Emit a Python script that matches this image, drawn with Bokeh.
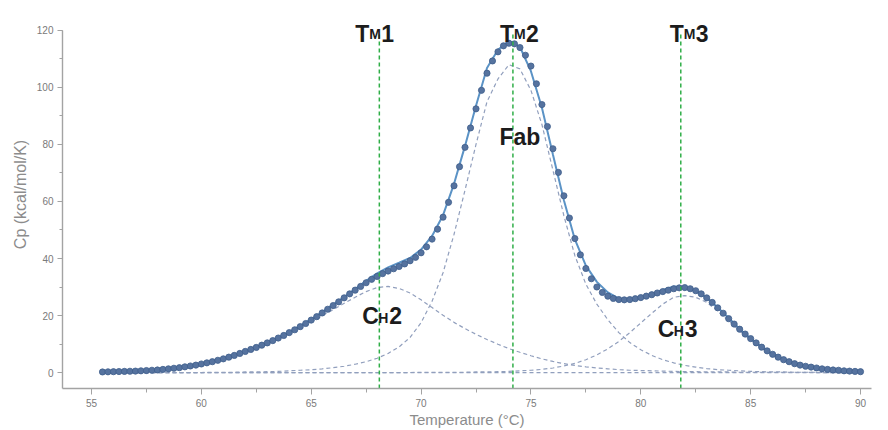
import numpy as np
from bokeh.plotting import figure
from bokeh.models import Range1d, SingleIntervalTicker, Title
from bokeh.core.properties import value
from bokeh.embed import file_html
from bokeh.resources import INLINE

# ---------------- data ----------------
# measured points, every 0.25 degC from 55.5 to 90.0
temp_data = np.round(np.arange(55.5, 90.001, 0.25), 2)
cp_data = [
    0.2, 0.25, 0.3, 0.35, 0.4, 0.45, 0.5, 0.6, 0.7, 0.8,
    0.9, 1.1, 1.3, 1.5, 1.7, 2.0, 2.3, 2.6, 3.0, 3.4,
    3.8, 4.3, 4.8, 5.4, 6.0, 6.7, 7.4, 8.1, 8.8, 9.6,
    10.4, 11.2, 12.1, 13.0, 14.0, 15.0, 16.1, 17.2, 18.4, 19.6,
    20.9, 22.2, 23.5, 24.8, 26.2, 27.6, 28.9, 30.2, 31.5, 32.7,
    33.7, 34.7, 35.6, 36.4, 37.2, 38.1, 39.2, 40.4, 42.0, 44.1,
    46.8, 50.3, 54.5, 59.7, 65.5, 72.2, 79.0, 85.8, 92.5, 99.0,
    105.0, 109.3, 112.5, 114.6, 115.5, 115.3, 114.0, 111.3, 107.5, 101.3,
    94.0, 86.3, 78.5, 70.2, 62.0, 54.2, 47.0, 41.3, 36.5, 32.9,
    30.0, 28.1, 26.8, 26.0, 25.6, 25.5, 25.6, 25.9, 26.3, 26.8,
    27.3, 27.9, 28.4, 28.9, 29.4, 29.7, 29.8, 29.4, 28.7, 27.6,
    26.2, 24.6, 22.7, 20.8, 18.9, 17.0, 15.2, 13.5, 11.9, 10.4,
    8.9, 7.6, 6.4, 5.4, 4.5, 3.8, 3.1, 2.6, 2.2, 1.9,
    1.6, 1.3, 1.1, 0.9, 0.8, 0.6, 0.5, 0.4, 0.3,
]

# fitted curves, every 0.5 degC from 55.5 to 90.0
temp_fit = np.round(np.arange(55.5, 90.001, 0.5), 2)
cp_fit = [
    0.2, 0.3, 0.4, 0.5, 0.7, 0.9, 1.3, 1.7, 2.3, 3.0,
    3.9, 4.9, 6.1, 7.5, 8.9, 10.5, 12.2, 14.2, 16.4, 18.7,
    21.2, 23.8, 26.5, 29.3, 32.2, 34.8, 36.9, 38.5, 40.2, 43.1,
    47.9, 55.2, 66.2, 79.5, 93.6, 106.8, 113.2, 116.3, 114.2, 105.7,
    92.9, 76.5, 60.4, 46.7, 37.5, 31.8, 28.1, 25.9, 25.3, 26.1,
    27.4, 29.0, 30.2, 29.8, 28.6, 26.2, 22.8, 19.1, 15.3, 11.9,
    9.0, 6.5, 4.7, 3.2, 2.3, 1.6, 1.1, 0.8, 0.5, 0.3,
]
ch2_fit = [
    0.2, 0.3, 0.4, 0.5, 0.7, 0.9, 1.3, 1.7, 2.3, 3.0,
    3.8, 4.8, 6.0, 7.3, 8.7, 10.2, 11.8, 13.6, 15.6, 17.7,
    19.9, 22.1, 24.3, 26.4, 28.4, 29.8, 30.2, 29.5, 27.9, 25.5,
    22.8, 20.1, 17.6, 15.4, 13.4, 11.6, 9.9, 8.4, 7.1, 5.9,
    4.8, 3.9, 3.1, 2.5, 2.0, 1.6, 1.3, 1.0, 0.8, 0.7,
    0.6, 0.5, 0.4, 0.3, 0.3, 0.2, 0.2, 0.2, 0.1, 0.1,
    0.1, 0.1, 0.1, 0.1, 0.1, 0.0, 0.0, 0.0, 0.0, 0.0,
]
fab_fit = [
    0.0, 0.0, 0.0, 0.0, 0.0, 0.0, 0.0, 0.0, 0.0, 0.0,
    0.1, 0.1, 0.1, 0.2, 0.2, 0.3, 0.4, 0.6, 0.8, 1.0,
    1.3, 1.7, 2.2, 2.9, 3.8, 5.0, 6.7, 9.0, 12.3, 17.5,
    25.0, 35.0, 48.5, 64.0, 80.0, 95.0, 103.0, 108.0, 106.5, 99.0,
    87.0, 71.0, 55.0, 41.0, 31.0, 24.0, 18.5, 14.0, 10.5, 8.0,
    6.0, 4.5, 3.4, 2.5, 1.9, 1.4, 1.0, 0.8, 0.6, 0.4,
    0.3, 0.2, 0.2, 0.1, 0.1, 0.1, 0.0, 0.0, 0.0, 0.0,
]
ch3_fit = [
    0.0, 0.0, 0.0, 0.0, 0.0, 0.0, 0.0, 0.0, 0.0, 0.0,
    0.0, 0.0, 0.0, 0.0, 0.0, 0.0, 0.0, 0.0, 0.0, 0.0,
    0.0, 0.0, 0.0, 0.0, 0.0, 0.0, 0.0, 0.0, 0.0, 0.1,
    0.1, 0.1, 0.1, 0.1, 0.2, 0.2, 0.3, 0.4, 0.6, 0.8,
    1.1, 1.6, 2.3, 3.2, 4.5, 6.2, 8.3, 10.9, 14.0, 17.4,
    20.8, 24.0, 26.4, 27.0, 26.4, 24.6, 21.6, 18.1, 14.6, 11.4,
    8.6, 6.2, 4.4, 3.0, 2.1, 1.5, 1.1, 0.8, 0.5, 0.3,
]
baseline = [0.0] * len(temp_fit)

# melting temperatures (green dashed markers)
tm_values = [68.1, 74.18, 81.82]
tm_digits = ["1", "2", "3"]
tm_label_x = [67.0, 73.59, 81.32]       # left edge of the "T"
tm_label_y = 118.9                       # text baseline
tm_line_top = 119.0

# domain labels
ch_digits = ["2", "3"]
ch_label_x = [67.32, 80.77]
ch_label_y = [20.0, 15.4]
fab_label_x = 74.5
fab_label_y = 82.5

x_ticks_interval = 5
y_ticks_interval = 20
y_axis_top = 120

# ---------------- figure ----------------
X0, X1 = 53.68, 90.5
Y0, Y1 = -5.6, 130.5

p = figure(width=888, height=430, output_backend="svg", toolbar_location=None,
           x_range=Range1d(X0, X1), y_range=Range1d(Y0, Y1),
           min_border_left=62, min_border_right=17, min_border_top=0,
           min_border_bottom=42)
p.outline_line_color = None
p.grid.visible = False
p.background_fill_color = "white"
p.border_fill_color = "white"

p.xaxis.ticker = SingleIntervalTicker(interval=x_ticks_interval, num_minor_ticks=2)
p.yaxis.ticker = SingleIntervalTicker(interval=y_ticks_interval, num_minor_ticks=2)
p.yaxis.bounds = (Y0, y_axis_top)
p.xaxis.bounds = (X0, X1)

axcol = "#a3a3a3"
for ax in (p.xaxis[0], p.yaxis[0]):
    ax.axis_line_color = axcol
    ax.axis_line_width = 1.4
    ax.major_tick_line_color = axcol
    ax.minor_tick_line_color = axcol
    ax.major_tick_in = 0
    ax.minor_tick_in = 0
    ax.major_label_text_font = "Liberation Sans"
    ax.major_label_text_font_size = "10px"
    ax.major_label_text_color = "#7a7a7a"
    ax.axis_label_text_font = "Liberation Sans"
    ax.axis_label_text_font_style = "normal"
    ax.axis_label_text_color = "#8c8c8c"

p.xaxis.major_tick_out = 6
p.xaxis.minor_tick_out = 4
p.xaxis.major_label_standoff = 4
p.xaxis.axis_label = "Temperature (°C)"
p.xaxis.axis_label_text_font_size = "15px"
p.xaxis.axis_label_standoff = 1

p.yaxis.major_tick_out = 5
p.yaxis.minor_tick_out = 3
p.yaxis.major_label_standoff = 4

# y-axis title as a side title so it can be shifted upward like the reference
p.add_layout(Title(text="Cp (kcal/mol/K)", align="center", offset=46,
                   text_font="Liberation Sans", text_font_size="16px",
                   text_font_style="normal", text_color="#8c8c8c",
                   standoff=10), "left")

# deconvoluted components (dashed)
dash_col = "#919fbd"
for comp in (baseline, ch2_fit, fab_fit, ch3_fit):
    p.line(temp_fit, comp, line_color=dash_col, line_width=1.2, line_dash="4 3")

# fit line (under the measured points)
p.line(temp_fit, cp_fit, line_color="#5b93c6", line_width=2)

# measured data
p.scatter(temp_data, cp_data, size=6.2, fill_color="#56739f",
          line_color="#3f5e8c", line_width=0.8)

# Tm markers
p.segment(x0=tm_values, y0=[Y0] * 3, x1=tm_values, y1=[tm_line_top] * 3,
          line_color="#2fae47", line_width=1.5, line_dash="4 3")

# labels
bold = value("Liberation Sans")
txt_col = "#1c1c1c"
n = len(tm_values)
p.text(x=tm_label_x, y=[tm_label_y] * n, text=["T"] * n,
       text_font=bold, text_font_style="bold", text_font_size="23px",
       text_color=txt_col, text_baseline="alphabetic", text_align="left")
p.text(x=tm_label_x, y=[tm_label_y] * n, text=["M"] * n, x_offset=14,
       text_font=bold, text_font_style="bold", text_font_size="14px",
       text_color=txt_col, text_baseline="alphabetic", text_align="left")
p.text(x=tm_label_x, y=[tm_label_y] * n, text=tm_digits, x_offset=26,
       text_font=bold, text_font_style="bold", text_font_size="23px",
       text_color=txt_col, text_baseline="alphabetic", text_align="left")

m = len(ch_label_x)
p.text(x=ch_label_x, y=ch_label_y, text=["C"] * m,
       text_font=bold, text_font_style="bold", text_font_size="23px",
       text_color=txt_col, text_baseline="alphabetic", text_align="left")
p.text(x=ch_label_x, y=ch_label_y, text=["H"] * m, x_offset=16, y_offset=2,
       text_font=bold, text_font_style="bold", text_font_size="14px",
       text_color=txt_col, text_baseline="alphabetic", text_align="left")
p.text(x=ch_label_x, y=ch_label_y, text=ch_digits, x_offset=27,
       text_font=bold, text_font_style="bold", text_font_size="23px",
       text_color=txt_col, text_baseline="alphabetic", text_align="left")

p.text(x=[fab_label_x], y=[fab_label_y], text=["Fab"],
       text_font=bold, text_font_style="bold", text_font_size="23px",
       text_color=txt_col, text_baseline="alphabetic", text_align="center")

open("out.html", "w").write(file_html(p, INLINE))
